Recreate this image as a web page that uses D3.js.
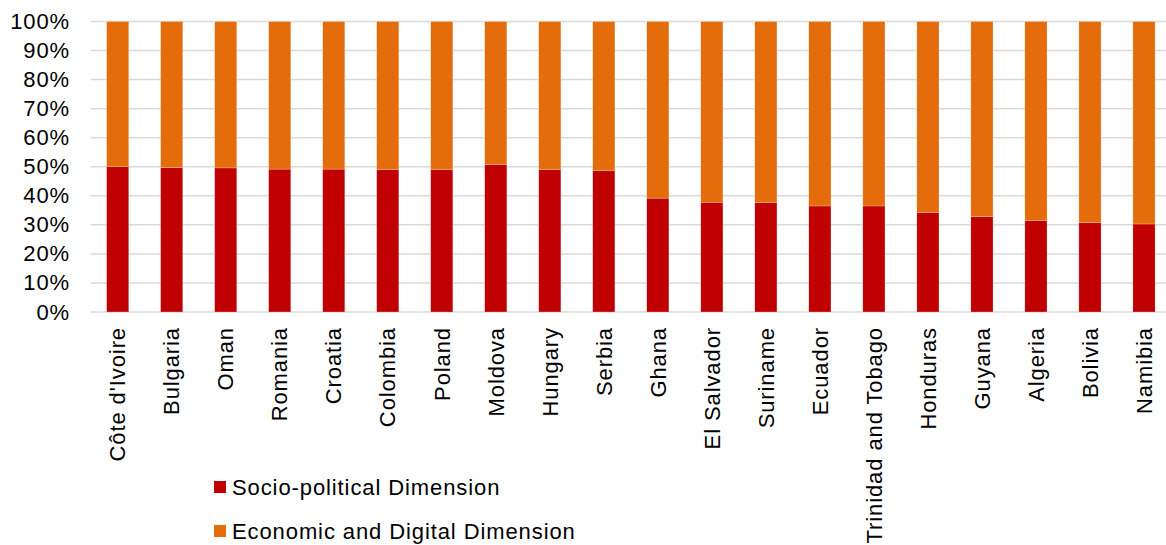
<!DOCTYPE html>
<html><head><meta charset="utf-8">
<script src="https://cdn.jsdelivr.net/npm/d3@7"></script>
<style>
html,body{margin:0;padding:0;background:#fff;overflow:hidden}
text{font-family:"Liberation Sans",Arial,sans-serif;fill:#000}
</style></head><body>
<svg id="c" width="1166" height="545"></svg>
<script>
const countries = ["Côte d'Ivoire","Bulgaria","Oman","Romania","Croatia","Colombia","Poland","Moldova","Hungary","Serbia","Ghana","El Salvador","Suriname","Ecuador","Trinidad and Tobago","Honduras","Guyana","Algeria","Bolivia","Namibia"];
const socioPolitical = [0.500,0.497,0.496,0.492,0.492,0.490,0.490,0.508,0.490,0.486,0.392,0.378,0.376,0.365,0.365,0.343,0.328,0.314,0.307,0.303];
const economicDigital = socioPolitical.map(v => 1 - v);
const seriesNames = ["Socio-political Dimension","Economic and Digital Dimension"];
const seriesColors = ["#C00000","#E46C0A"];
const yTicks = [0,0.1,0.2,0.3,0.4,0.5,0.6,0.7,0.8,0.9,1.0];

const svg = d3.select("#c");
const pL = 90.7, pR = 1171, pT = 21.5, pB = 312;
const x = d3.scaleBand().domain(countries).range([pL, pR]).paddingInner(0.59).paddingOuter(0.295);
const y = d3.scaleLinear().domain([0,1]).range([pB, pT]);

const FS = "22px", LS = "0.9px";
// gridlines
svg.append("g").selectAll("line").data(yTicks).join("line")
  .attr("x1", pL).attr("x2", pR)
  .attr("y1", d => y(d)).attr("y2", d => y(d))
  .attr("stroke", "#d9d9d9").attr("stroke-width", 1.5);

// y axis labels
const yAxis = d3.axisLeft(y).tickValues(yTicks).tickFormat(d3.format(".0%")).tickSize(0).tickPadding(0);
const ya = svg.append("g").attr("transform", "translate(70,0)").call(yAxis);
ya.select(".domain").remove();
ya.selectAll("text").style("font-size",FS).style("letter-spacing",LS)
  .style("font-family","'Liberation Sans',Arial,sans-serif").attr("fill","#000");

// stacked bars
const rows = countries.map((c,i) => ({country:c, s0: socioPolitical[i], s1: economicDigital[i]}));
const stack = d3.stack().keys(["s0","s1"])(rows);
svg.append("g").selectAll("g").data(stack).join("g")
  .attr("fill", (d,i) => seriesColors[i])
  .selectAll("rect").data(d => d).join("rect")
  .attr("x", d => x(d.data.country))
  .attr("width", x.bandwidth())
  .attr("y", d => y(d[1]))
  .attr("height", d => y(d[0]) - y(d[1]))
  .attr("stroke", "#fff").attr("stroke-width", 0.4).attr("stroke-opacity", 0.6);

// x labels
const xa = svg.append("g").attr("transform", `translate(0,${pB})`)
  .call(d3.axisBottom(x).tickSize(0).tickPadding(0));
xa.select(".domain").remove();
xa.selectAll("text")
  .attr("transform", "rotate(-90)")
  .attr("text-anchor", "end")
  .attr("x", -15).attr("y", 0).attr("dy", "0.35em")
  .style("font-size",FS).style("letter-spacing",LS)
  .style("font-family","'Liberation Sans',Arial,sans-serif").attr("fill","#000");

// legend
const leg = svg.append("g");
const legY = [487, 531];
seriesNames.forEach((n,i) => {
  leg.append("rect").attr("x", 214).attr("y", legY[i]-6).attr("width", 12).attr("height", 12).attr("fill", seriesColors[i]);
  leg.append("text").attr("x", 232).attr("y", legY[i]).attr("dy","0.35em")
    .style("font-size",FS).style("letter-spacing",LS).text(n);
});
</script></body></html>
